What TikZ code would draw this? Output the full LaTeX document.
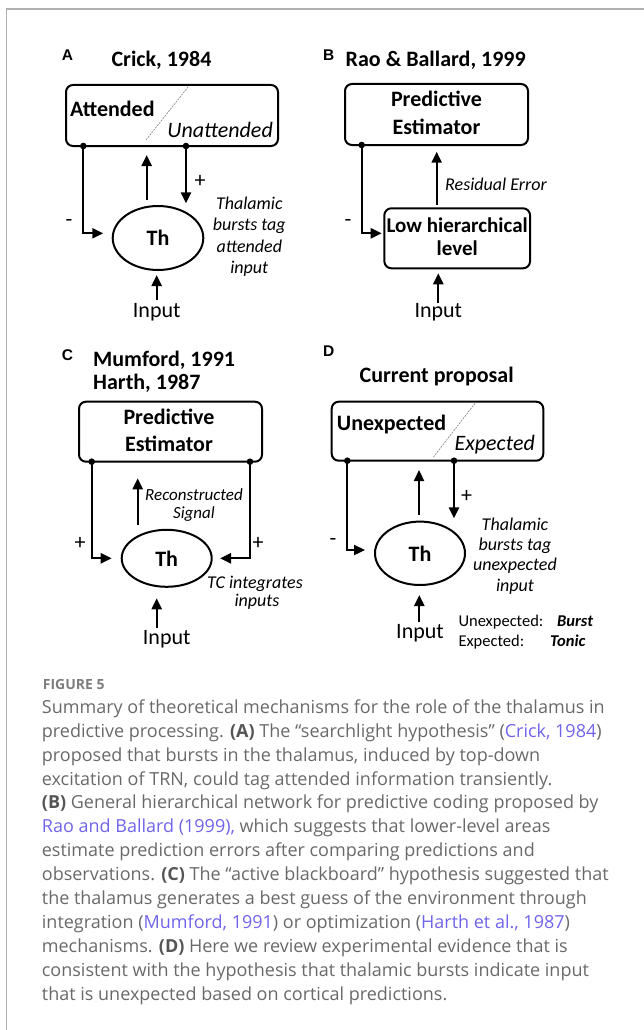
\documentclass[tikz,border=0pt]{standalone}
\usepackage{fontspec}
\setmainfont{Carlito}
\newfontfamily\arialf{Liberation Sans}
\newfontfamily\capf{Open Sans}
\usetikzlibrary{arrows.meta,shapes.geometric}
\definecolor{capgray}{RGB}{105,105,105}
\definecolor{capdark}{RGB}{85,85,85}
\definecolor{figc}{RGB}{125,125,125}
\definecolor{linkc}{RGB}{112,100,235}
\definecolor{framec}{RGB}{176,176,176}
\newcommand\myfs[1]{\fontsize{#1}{#1}\selectfont}
\begin{document}
\begin{tikzpicture}[x=1pt,y=-1pt,
  txt/.style={inner sep=0pt, anchor=base},
  ltxt/.style={inner sep=0pt, anchor=base west},
  rtxt/.style={inner sep=0pt, anchor=base east},
  panel/.style={ltxt, font=\arialf\bfseries\myfs{15.5}},
  ttl/.style={txt, font=\bfseries\myfs{22}},
  ttll/.style={ltxt, font=\bfseries\myfs{22}},
  btxt/.style={txt, font=\bfseries\myfs{22}},
  ann/.style={txt, font=\itshape\myfs{18}},
  sign/.style={inner sep=0pt, anchor=center, font=\myfs{22}},
  arr/.style={line width=2.3pt, -{Triangle[length=11pt,width=10pt]}},
  dotc/.style={circle, fill, inner sep=0pt, minimum size=6.6pt},
  boxn/.style={draw, line width=2pt, rounded corners=7pt, inner sep=0pt},
  thn/.style={draw, ellipse, line width=2pt, inner sep=0pt, font=\bfseries\myfs{22}},
  divl/.style={gray, line width=0.6pt, dash pattern=on 2pt off 1pt},
  captxt/.style={inner sep=0pt, anchor=base west, font=\capf\myfs{18}, text=capgray},
  inp/.style={txt, font=\myfs{22}},
]
\useasboundingbox (0,0) rectangle (644,1030);
% frame
\coordinate (fr1) at (644,9);
\coordinate (fr2) at (6.5,9);
\coordinate (fr3) at (6.5,1030);
\draw[framec, line width=1.5pt] (fr1) -- (fr2) -- (fr3);

% ---------------- Panel A
\node[panel] (lA) at (61.7,60.7) {A};
\node[ttl] (tA) at (161.5,67) {Crick, 1984};
\node[boxn, minimum width=212pt, minimum height=61pt] (bA) at (172,115.5) {};
\node[ltxt, font=\bfseries\myfs{22}] (atA) at (70,116.7) {Attended};
\node[rtxt, font=\itshape\myfs{22}] (unA) at (273,137) {Unattended};
\coordinate (dA1) at (188.3,86.7);
\coordinate (dA2) at (146,140);
\draw[divl] (dA1) -- (dA2);
\node[thn, minimum width=90.6pt, minimum height=64pt] (thA) at (158,238) {Th};
\coordinate (aL) at (83.3,146);
\coordinate (aR) at (186,146);
\coordinate (aLt) at (103.3,233.3);
\coordinate (aRt) at (186,203.3);
\coordinate (aU1) at (146.7,200);
\coordinate (aU2) at (146.7,155);
\coordinate (aI1) at (156.7,300);
\coordinate (aI2) at (156.7,275);
\draw[arr] (aL) |- (aLt);
\draw[arr] (aR) -- (aRt);
\draw[arr] (aU1) -- (aU2);
\draw[arr] (aI1) -- (aI2);
\node[dotc] (aLd) at (aL) {};
\node[dotc] (aRd) at (aR) {};
\node[sign] (pA) at (200,181.7) {+};
\node[sign] (mA) at (69,223) {-};
\node[ann] (tA1) at (249.3,209) {Thalamic};
\node[ann] (tA2) at (249.3,230.5) {bursts tag};
\node[ann] (tA3) at (249.3,252) {attended};
\node[ann] (tA4) at (249.3,273) {input};
\node[inp] (inA) at (156.7,317.5) {Input};

% ---------------- Panel B
\node[panel] (lB) at (323,60.7) {B};
\node[ttl] (tB) at (435.7,66.7) {Rao \& Ballard, 1999};
\node[boxn, minimum width=183pt, minimum height=61pt] (bB) at (436.5,114.5) {};
\node[btxt] (pB1) at (436.5,106.7) {Predictive};
\node[btxt] (pB2) at (436.5,134.3) {Estimator};
\node[boxn, minimum width=145.7pt, minimum height=60pt] (lowB) at (457.2,238.3) {};
\node[txt, font=\bfseries\myfs{21}] (lB1) at (457.2,232.7) {Low hierarchical};
\node[txt, font=\bfseries\myfs{21}] (lB2) at (457.2,255) {level};
\coordinate (bL) at (361.7,145);
\coordinate (bLt) at (381.7,233.3);
\coordinate (bU1) at (436.7,205);
\coordinate (bU2) at (436.7,151.7);
\coordinate (bI1) at (438.3,303);
\coordinate (bI2) at (438.3,273.3);
\draw[arr] (bL) |- (bLt);
\draw[arr] (bU1) -- (bU2);
\draw[arr] (bI1) -- (bI2);
\node[dotc] (bLd) at (bL) {};
\node[sign] (mB) at (348,222.7) {-};
\node[ltxt, font=\itshape\myfs{18}] (reB) at (445,190.5) {Residual Error};
\node[inp] (inB) at (438.3,317.5) {Input};

% ---------------- Panel C
\node[panel] (lC) at (61.7,360) {C};
\node[ttll] (tC1) at (93,366.7) {Mumford, 1991};
\node[ttll] (tC2) at (93,389.3) {Harth, 1987};
\node[boxn, minimum width=183pt, minimum height=60pt] (bC) at (170.5,431.7) {};
\node[btxt] (pC1) at (169,424) {Predictive};
\node[btxt] (pC2) at (169,451) {Estimator};
\node[thn, minimum width=90pt, minimum height=57pt] (thC) at (166.7,558.3) {Th};
\coordinate (cL) at (91.7,461.7);
\coordinate (cR) at (250,461.7);
\coordinate (cLt) at (111.7,558.3);
\coordinate (cRt) at (220,558.3);
\coordinate (cU1) at (137.7,525);
\coordinate (cU2) at (137.7,478.3);
\coordinate (cI1) at (156.7,628.3);
\coordinate (cI2) at (156.7,598.3);
\draw[arr] (cL) |- (cLt);
\draw[arr] (cR) |- (cRt);
\draw[arr] (cU1) -- (cU2);
\draw[arr] (cI1) -- (cI2);
\node[dotc] (cLd) at (cL) {};
\node[dotc] (cRd) at (cR) {};
\node[sign] (pC) at (80,543) {+};
\node[sign] (pC2s) at (258,543) {+};
\node[ann, font=\itshape\myfs{17}] (rC1) at (194,500.5) {Reconstructed};
\node[ann, font=\itshape\myfs{17}] (rC2) at (194,518.5) {Signal};
\node[ann] (iC1) at (255,588.3) {TC integrates};
\node[ann] (iC2) at (257,606.7) {inputs};
\node[inp] (inC) at (166.7,644.3) {Input};

% ---------------- Panel D
\node[panel] (lD) at (323,356.7) {D};
\node[ttl] (tD) at (436.7,382.7) {Current proposal};
\node[boxn, minimum width=211.6pt, minimum height=59pt] (bD) at (437.5,431.2) {};
\node[ltxt, font=\bfseries\myfs{22}] (unD) at (336.7,430) {Unexpected};
\node[rtxt, font=\itshape\myfs{22}] (exD) at (535,450) {Expected};
\coordinate (dD1) at (475,403.3);
\coordinate (dD2) at (433.3,457.3);
\draw[divl] (dD1) -- (dD2);
\node[thn, minimum width=90pt, minimum height=63.4pt] (thD) at (420,553.3) {Th};
\coordinate (dL) at (347.3,460.7);
\coordinate (dR) at (454,460.7);
\coordinate (dLt) at (365,550);
\coordinate (dRt) at (454,518.3);
\coordinate (dU1) at (419,515);
\coordinate (dU2) at (419,470);
\coordinate (dI1) at (419.3,621.7);
\coordinate (dI2) at (419.3,595);
\draw[arr] (dL) |- (dLt);
\draw[arr] (dR) -- (dRt);
\draw[arr] (dU1) -- (dU2);
\draw[arr] (dI1) -- (dI2);
\node[dotc] (dLd) at (dL) {};
\node[dotc] (dRd) at (dR) {};
\node[sign] (pD) at (466.7,496.7) {+};
\node[sign] (mD) at (333,541.7) {-};
\node[ann] (tD1) at (515,530) {Thalamic};
\node[ann] (tD2) at (515,550.3) {bursts tag};
\node[ann] (tD3) at (515,570.6) {unexpected};
\node[ann] (tD4) at (515,591) {input};
\node[inp] (inD) at (420,638.3) {Input};
\node[ltxt, font=\myfs{16.5}] (uD) at (458.3,626.7) {Unexpected:};
\node[ltxt, font=\bfseries\itshape\myfs{16.5}] (uDb) at (557,626.7) {Burst};
\node[ltxt, font=\myfs{16.5}] (eD) at (458.3,646.7) {Expected:};
\node[ltxt, font=\bfseries\itshape\myfs{16.5}] (eDb) at (550,646.7) {Tonic};

% ---------------- Caption
\node[ltxt, font=\capf\bfseries\myfs{14}, text=figc] (fig) at (42.7,689.3) {FIGURE 5};
\node[captxt] (c1) at (41.7,713.3) {Summary of theoretical mechanisms for the role of the thalamus in};
\node[captxt] (c2) at (41.7,737.2) {predictive processing. \textcolor{capdark}{\bfseries(A)} The “searchlight hypothesis” (\textcolor{linkc}{Crick, 1984})};
\node[captxt] (c3) at (41.7,761.1) {proposed that bursts in the thalamus, induced by top-down};
\node[captxt] (c4) at (41.7,785.0) {excitation of TRN, could tag attended information transiently.};
\node[captxt] (c5) at (41.7,808.9) {\textcolor{capdark}{\bfseries(B)} General hierarchical network for predictive coding proposed by};
\node[captxt] (c6) at (41.7,832.8) {\textcolor{linkc}{Rao and Ballard (1999),} which suggests that lower-level areas};
\node[captxt] (c7) at (41.7,856.7) {estimate prediction errors after comparing predictions and};
\node[captxt] (c8) at (41.7,880.6) {observations. \textcolor{capdark}{\bfseries(C)} The “active blackboard” hypothesis suggested that};
\node[captxt] (c9) at (41.7,904.5) {the thalamus generates a best guess of the environment through};
\node[captxt] (c10) at (41.7,928.4) {integration (\textcolor{linkc}{Mumford, 1991}) or optimization (\textcolor{linkc}{Harth et al., 1987})};
\node[captxt] (c11) at (41.7,952.3) {mechanisms. \textcolor{capdark}{\bfseries(D)} Here we review experimental evidence that is};
\node[captxt] (c12) at (41.7,976.2) {consistent with the hypothesis that thalamic bursts indicate input};
\node[captxt] (c13) at (41.7,1000.1) {that is unexpected based on cortical predictions.};
\end{tikzpicture}
\end{document}
